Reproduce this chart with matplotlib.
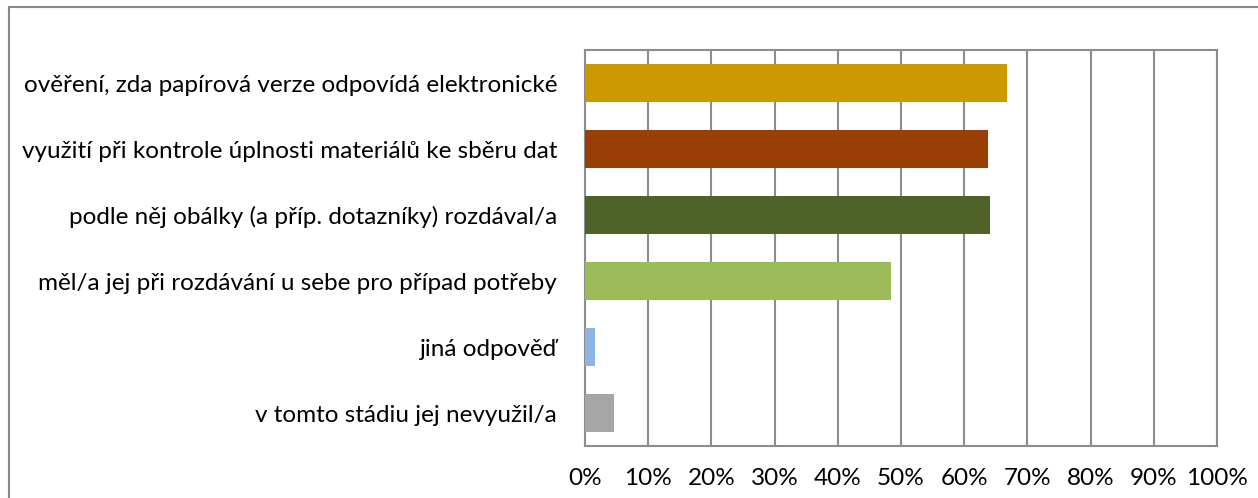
import matplotlib
matplotlib.use("Agg")
import matplotlib.pyplot as plt
from matplotlib.lines import Line2D
from matplotlib.ticker import MultipleLocator, FuncFormatter

plt.rcParams["font.family"] = ["Lato", "DejaVu Sans"]

categories = [
    "ověření, zda papírová verze odpovídá elektronické",
    "využití při kontrole úplnosti materiálů ke sběru dat",
    "podle něj obálky (a příp. dotazníky) rozdával/a",
    "měl/a jej při rozdávání u sebe pro případ potřeby",
    "jiná odpověď",
    "v tomto stádiu jej nevyužil/a",
]
values = [66.8, 63.8, 64.1, 48.4, 1.6, 4.6]
colors = ["#CC9900", "#993F06", "#4F6228", "#9BBB59", "#8DB4E2", "#A6A6A6"]

fig = plt.figure(figsize=(12.58, 4.98), dpi=100)
ax = fig.add_axes([585 / 1258, 1 - 446 / 498, 632 / 1258, 396 / 498])

# outer chart frame (top and left edges visible)
fig.add_artist(Line2D([9 / 1258, 1], [1 - 7 / 498, 1 - 7 / 498], color="#888888", lw=1.5))
fig.add_artist(Line2D([9 / 1258, 9 / 1258], [0, 1 - 7 / 498], color="#888888", lw=1.5))

ypos = list(range(len(categories)))[::-1]
ax.barh(ypos, values, height=0.59, color=colors, zorder=3)

ax.set_xlim(0, 100)
ax.set_ylim(-0.5, len(categories) - 0.5)
ax.xaxis.set_major_locator(MultipleLocator(10))
ax.xaxis.set_major_formatter(FuncFormatter(lambda v, p: f"{v:.0f}%"))
ax.grid(axis="x", color="#8c8c8c", lw=1.5, zorder=1)
ax.set_yticks(ypos)
ax.set_yticklabels(categories)
for s in ax.spines.values():
    s.set_color("#8c8c8c")
    s.set_linewidth(1.5)
ax.tick_params(axis="both", length=0, labelsize=17.5, colors="black")
ax.tick_params(axis="x", pad=16)
ax.tick_params(axis="y", pad=20)

fig.savefig("out.png", dpi=100)
